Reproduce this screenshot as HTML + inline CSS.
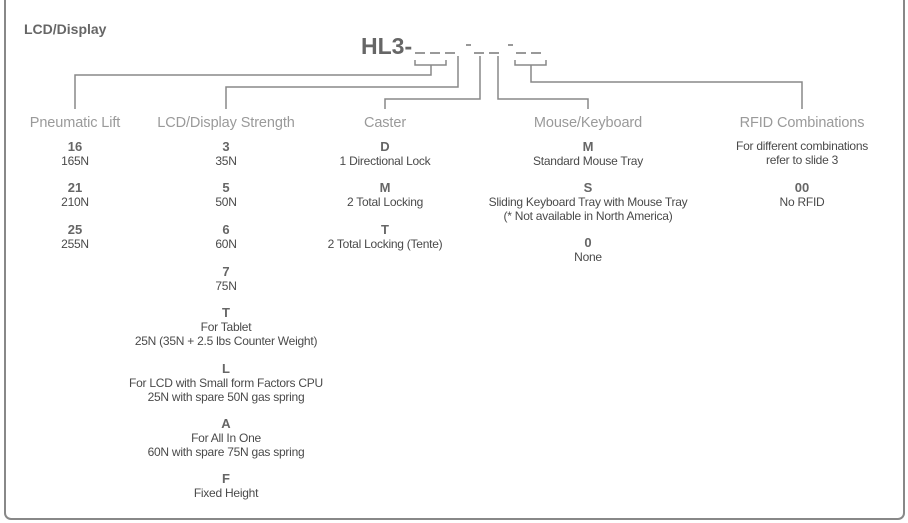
<!DOCTYPE html>
<html><head><style>
body{margin:0;width:908px;height:523px;background:#fff;position:relative;overflow:hidden;font-family:"Liberation Sans",sans-serif}
.box{position:absolute;left:4px;top:-10px;width:897px;height:526px;border:2px solid #888;border-radius:7px}
.t{position:absolute;white-space:nowrap;transform:translateX(-50%);text-align:center;color:#4a4a4a;font-size:12px;line-height:14px;letter-spacing:-0.25px}
.b{font-weight:bold;font-size:13px;color:#666;letter-spacing:0}
.h{color:#9a9a9a;font-size:14.5px;letter-spacing:-0.1px}
</style></head><body>
<div class="box"></div>
<div style="position:absolute;left:24px;top:21px;font-weight:bold;font-size:14px;color:#666">LCD/Display</div>
<div style="position:absolute;left:361px;top:33px;font-weight:bold;font-size:23px;color:#666">HL3-</div>
<svg width="908" height="523" style="position:absolute;left:0;top:0" fill="none" stroke="#888" stroke-width="1.5">
<g stroke="#777" stroke-width="1.5">
<line x1="415" y1="53" x2="425" y2="53"/><line x1="430" y1="53" x2="440" y2="53"/><line x1="445" y1="53" x2="455" y2="53"/>
<line x1="466" y1="45" x2="471" y2="45"/>
<line x1="474" y1="53" x2="484" y2="53"/><line x1="489" y1="53" x2="499" y2="53"/>
<line x1="508" y1="45" x2="513" y2="45"/>
<line x1="516" y1="53" x2="526" y2="53"/><line x1="531" y1="53" x2="541" y2="53"/>
</g>
<path d="M415 60V65H446V60M431 65V75H75V109"/>
<path d="M458 56V87H226V109"/>
<path d="M480 56V99H385V109"/>
<path d="M498 56V99H588V109"/>
<path d="M515 60V65H546V60M531 65V82H802V109"/>
</svg>
<div class="t h" style="left:75px;top:116px">Pneumatic Lift</div>
<div class="t h" style="left:226px;top:116px">LCD/Display Strength</div>
<div class="t h" style="left:385px;top:116px">Caster</div>
<div class="t h" style="left:588px;top:116px">Mouse/Keyboard</div>
<div class="t h" style="left:802px;top:116px">RFID Combinations</div>

<div class="t" style="left:75px;top:140px"><span class="b">16</span><br>165N</div>
<div class="t" style="left:75px;top:181px"><span class="b">21</span><br>210N</div>
<div class="t" style="left:75px;top:223px"><span class="b">25</span><br>255N</div>

<div class="t" style="left:226px;top:140px"><span class="b">3</span><br>35N</div>
<div class="t" style="left:226px;top:181px"><span class="b">5</span><br>50N</div>
<div class="t" style="left:226px;top:223px"><span class="b">6</span><br>60N</div>
<div class="t" style="left:226px;top:265px"><span class="b">7</span><br>75N</div>
<div class="t" style="left:226px;top:306px"><span class="b">T</span><br>For Tablet<br>25N (35N + 2.5 lbs Counter Weight)</div>
<div class="t" style="left:226px;top:362px"><span class="b">L</span><br>For LCD with Small form Factors CPU<br>25N with spare 50N gas spring</div>
<div class="t" style="left:226px;top:417px"><span class="b">A</span><br>For All In One<br>60N with spare 75N gas spring</div>
<div class="t" style="left:226px;top:472px"><span class="b">F</span><br>Fixed Height</div>

<div class="t" style="left:385px;top:140px"><span class="b">D</span><br>1 Directional Lock</div>
<div class="t" style="left:385px;top:181px"><span class="b">M</span><br>2 Total Locking</div>
<div class="t" style="left:385px;top:223px"><span class="b">T</span><br>2 Total Locking (Tente)</div>

<div class="t" style="left:588px;top:140px"><span class="b">M</span><br>Standard Mouse Tray</div>
<div class="t" style="left:588px;top:181px"><span class="b">S</span><br>Sliding Keyboard Tray with Mouse Tray<br>(* Not available in North America)</div>
<div class="t" style="left:588px;top:236px"><span class="b">0</span><br>None</div>

<div class="t" style="left:802px;top:139px">For different combinations<br>refer to slide 3</div>
<div class="t" style="left:802px;top:181px"><span class="b">00</span><br>No RFID</div>
</body></html>
